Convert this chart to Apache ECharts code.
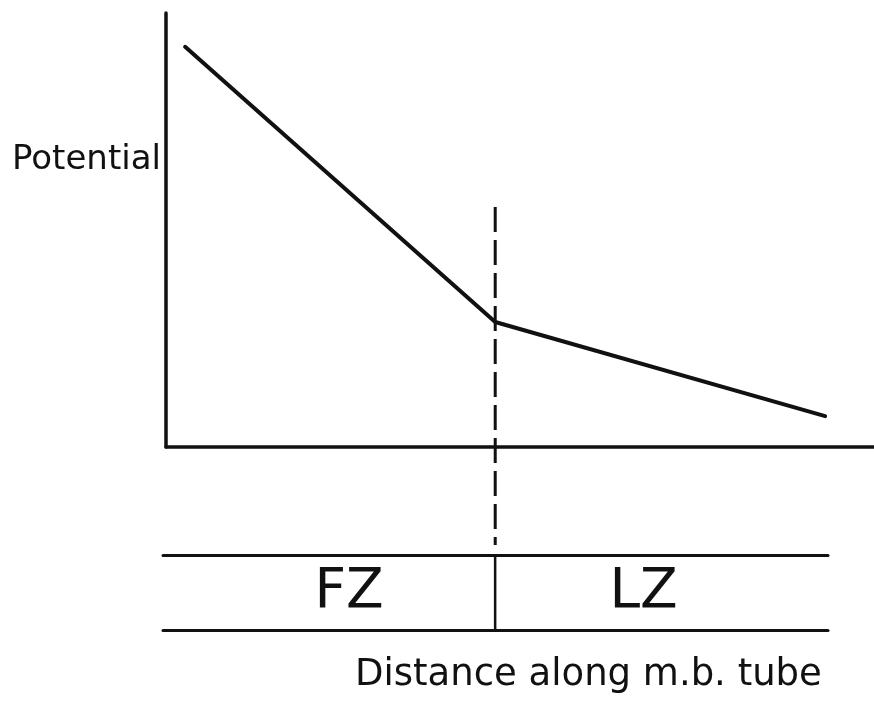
<!DOCTYPE html>
<html>
<head>
<meta charset="utf-8">
<script src="https://cdn.jsdelivr.net/npm/echarts@6/dist/echarts.min.js"></script>
<style>
  html, body { margin: 0; padding: 0; background: #fff; }
  #chart { width: 874px; height: 715px; }
</style>
</head>
<body>
<div id="chart"></div>
<script>
// Potential profile along the tube (arbitrary units)
const distance = [2.7, 46.5, 93.1];
const potential = [92.2, 28.8, 7.1];

// Boundary between the two zones and the extent of the dashed marker
const boundary = 46.5;
const boundaryTop = 55.3;
const boundaryBottom = -22.6;

// Zone strip below the graph
const zoneNames = ['FZ', 'LZ'];
const zoneEdges = [-0.4, boundary, 93.5];

const INK = '#111';

const chart = echarts.init(document.getElementById('chart'), null, { renderer: 'canvas' });

const hiddenAxis = {
  axisTick: { show: false },
  axisLabel: { show: false },
  splitLine: { show: false }
};

// Hand-lettered zone names sit a little off the exact zone centres
const zoneLabelOffsets = [[20, 0], [-18, 0]];
const zoneLabels = zoneNames.map((name, i) => ({
  name: name,
  value: [(zoneEdges[i] + zoneEdges[i + 1]) / 2, 0.5],
  label: { offset: zoneLabelOffsets[i] }
}));

chart.setOption({
  animation: false,
  backgroundColor: '#fff',
  grid: [
    { left: 166, top: 13, width: 708, height: 434 },
    { left: 163, right: 46, top: 555, height: 75 }
  ],
  xAxis: [
    Object.assign({ type: 'value', gridIndex: 0, min: 0, max: 100,
      axisLine: { show: true, onZero: false, lineStyle: { color: INK, width: 3.5 } } }, hiddenAxis),
    Object.assign({ type: 'value', gridIndex: 1, min: zoneEdges[0], max: zoneEdges[2], position: 'top',
      axisLine: { show: true, onZero: false, lineStyle: { color: INK, width: 3 } } }, hiddenAxis),
    Object.assign({ type: 'value', gridIndex: 1, min: zoneEdges[0], max: zoneEdges[2], position: 'bottom',
      axisLine: { show: true, onZero: false, lineStyle: { color: INK, width: 3 } } }, hiddenAxis)
  ],
  yAxis: [
    Object.assign({ type: 'value', gridIndex: 0, min: 0, max: 100,
      axisLine: { show: true, onZero: false, lineStyle: { color: INK, width: 3.5 } } }, hiddenAxis),
    Object.assign({ type: 'value', gridIndex: 1, min: 0, max: 1,
      axisLine: { show: false } }, hiddenAxis)
  ],
  graphic: [
    {
      type: 'text', left: 12, top: 143,
      style: { text: 'Potential', font: '34px "DejaVu Sans"', fill: INK }
    },
    {
      type: 'text', left: 355, top: 657,
      style: { text: 'Distance along m.b. tube', font: '37px "DejaVu Sans"', fill: INK }
    }
  ],
  series: [
    {
      type: 'line',
      xAxisIndex: 0, yAxisIndex: 0,
      data: distance.map((d, i) => [d, potential[i]]),
      symbol: 'none',
      lineStyle: { color: INK, width: 4, cap: 'round', join: 'round' }
    },
    {
      type: 'line',
      xAxisIndex: 0, yAxisIndex: 0,
      clip: false,
      data: [[boundary, boundaryTop], [boundary, boundaryBottom]],
      symbol: 'none',
      lineStyle: { color: INK, width: 3, type: [25, 8] }
    },
    {
      type: 'line',
      xAxisIndex: 1, yAxisIndex: 1,
      data: [[boundary, 0], [boundary, 1]],
      symbol: 'none',
      lineStyle: { color: INK, width: 2.5 }
    },
    {
      type: 'scatter',
      xAxisIndex: 1, yAxisIndex: 1,
      symbolSize: 0,
      itemStyle: { opacity: 1 },
      data: zoneLabels,
      label: {
        show: true, position: 'inside', formatter: '{b}', opacity: 1,
        color: INK, fontFamily: 'DejaVu Sans', fontSize: 55, fontWeight: 'normal'
      }
    }
  ]
});
</script>
</body>
</html>
